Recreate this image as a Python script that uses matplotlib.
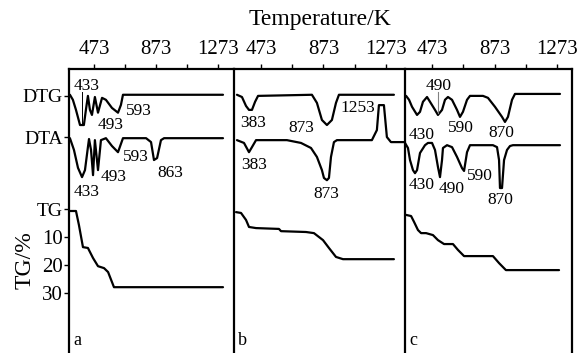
import matplotlib
matplotlib.use("Agg")
import matplotlib.pyplot as plt
from matplotlib.ticker import FixedLocator

plt.rcParams['font.family'] = ['Liberation Serif', 'DejaVu Serif']

# ---- data (temperature in K) ----
# panel a
a_dtg_T = [318, 337, 357, 383, 408, 421, 434, 447, 460, 479, 499, 525, 550, 589, 628, 647, 660, 1305]
a_dtg_s = [0.4, -1.4, -5, -10.4, -10.4, -5, 0, -5, -6.8, -0.4, -6, -0.7, -1.4, -4.3, -6, -3.2, 0.4, 0.4]
a_dta_T = [318, 344, 370, 396, 415, 434, 441, 454, 467, 479, 499, 518, 550, 589, 628, 660, 809, 841, 860, 880, 905, 925, 1305]
a_dta_s = [-0.4, -4.6, -11, -14.3, -11.8, -3.6, -0.7, -4.6, -13.6, -1.1, -11.8, -1.1, -0.4, -3.2, -5.4, -0.4, -0.4, -1.8, -8.2, -7.5, -1.1, -0.4, -0.4]
a_tg_T = [312, 357, 376, 402, 434, 467, 499, 538, 564, 602, 1305]
a_tg = [0.7, 0.7, 5.7, 13.6, 13.9, 17.5, 20.4, 21.1, 22.5, 27.9, 27.9]

# panel b
b_dtg_T = [319, 351, 377, 396, 415, 435, 454, 799, 831, 863, 895, 927, 953, 972, 1324]
b_dtg_s = [0.4, -0.4, -3.6, -5, -5, -2.1, 0, 0.4, -2.5, -8.6, -10.4, -8.6, -2.5, 0.4, 0.4]
b_dta_T = [319, 364, 396, 415, 441, 639, 729, 793, 831, 863, 876, 895, 908, 921, 940, 959, 1183, 1215, 1228, 1260, 1279, 1305, 1388]
b_dta_s = [-1.1, -2.1, -5.4, -3.6, -1.1, -1.1, -2.1, -3.9, -7.1, -11.8, -14.6, -15.4, -14.6, -7.1, -1.8, -1.1, -1.1, 2.5, 11.4, 11.4, 0, -1.8, -1.8]
b_tg_T = [313, 345, 377, 396, 441, 588, 601, 761, 812, 870, 908, 953, 998, 1324]
b_tg = [1.1, 1.4, 3.9, 6.4, 6.8, 7.1, 7.9, 8.2, 8.6, 11.1, 13.9, 17.1, 17.9, 17.9]

# panel c
c_dtg_T = [307, 326, 345, 377, 396, 415, 441, 460, 492, 511, 537, 556, 575, 601, 633, 652, 671, 697, 716,
           799, 831, 876, 921, 940, 959, 985, 1004, 1292]
c_dtg_s = [0, -1.4, -3.9, -6.8, -5.7, -2.1, -0.4, -2.1, -5, -6.8, -5, -1.4, -0.4, -1.4, -5, -7.5, -5.7, -1.4, 0,
           0, -0.7, -3.9, -7.5, -9.3, -7.5, -1.4, 0.7, 0.7]
c_dta_T = [300, 319, 332, 351, 364, 377, 396, 428, 447, 473, 492, 511, 524, 537, 543, 569, 601, 633, 665, 678,
           697, 716, 863, 889, 902, 908, 921, 934, 953, 972, 991, 1292]
c_dta_s = [-2.1, -3.9, -8.2, -11.8, -12.9, -11.8, -5.7, -2.9, -2.1, -2.1, -4.6, -10.7, -14.3, -8.2, -3.9, -2.9,
           -3.6, -7.1, -11.1, -12.1, -5.4, -2.9, -2.9, -3.6, -8.2, -18.2, -18.2, -8.2, -4.6, -3.2, -2.9, -2.9]
c_tg_T = [307, 339, 358, 383, 403, 435, 479, 511, 550, 607, 639, 678, 863, 902, 946, 1286]
c_tg = [2.1, 2.5, 4.6, 7.5, 8.6, 8.6, 9.3, 11.1, 12.5, 12.5, 14.6, 16.8, 16.8, 19.3, 21.8, 21.8]

# peak labels: (text, T, y)
a_labels = [("433", 428, 43.9), ("493", 583, 30.0), ("593", 763, 35.0), ("593", 744, 18.6),
            ("863", 963, 12.9), ("493", 602, 11.4), ("433", 428, 6.1)]
b_labels = [("383", 422, 30.7), ("873", 729, 28.9), ("1253", 1094, 36.1),
            ("383", 428, 15.7), ("873", 889, 5.4)]
c_labels = [("490", 518, 43.9), ("590", 659, 28.9), ("870", 915, 27.1), ("430", 409, 26.4),
            ("430", 409, 8.6), ("490", 601, 7.1), ("590", 780, 11.8), ("870", 908, 3.2)]

panel_names = ["a", "b", "c"]
top_ticks = [473, 873, 1273]
top_minor = [673, 1073]
left_tick_pos = [40.4, 25.7, 0, -10, -20, -30]
left_tick_lab = ["DTG", "DTA", "TG", "10", "20", "30"]

# ---- layout (pixel based) ----
W, H = 577, 353
dtg_base = 40.4
dta_base = 25.7
panel_px = [(69, 234), (234, 405), (405, 572)]
panel_xlim = [(312, 1376), (300, 1395), (300, 1369)]
top_px = 69

fig = plt.figure(figsize=(W / 100, H / 100), dpi=100)

panels = [
    (a_dtg_T, a_dtg_s, a_dta_T, a_dta_s, a_tg_T, a_tg, a_labels),
    (b_dtg_T, b_dtg_s, b_dta_T, b_dta_s, b_tg_T, b_tg, b_labels),
    (c_dtg_T, c_dtg_s, c_dta_T, c_dta_s, c_tg_T, c_tg, c_labels),
]

line_kw = dict(color="black", lw=1.6, solid_joinstyle="round", solid_capstyle="round")

for i, (dT, ds, aT, as_, tT, tg, labels) in enumerate(panels):
    x0, x1 = panel_px[i]
    ax = fig.add_axes([x0 / W, 0, (x1 - x0) / W, 1 - top_px / H])
    ax.set_xlim(*panel_xlim[i])
    ax.set_ylim(-51.4, 50)

    ax.plot(dT, [dtg_base + v for v in ds], **line_kw)
    ax.plot(aT, [dta_base + v for v in as_], **line_kw)
    ax.plot(tT, [-v for v in tg], **line_kw)

    for txt, T, y in labels:
        ax.text(T, y, txt, ha="center", va="center", fontsize=12.5)

    ax.text(0.025, 0.015, panel_names[i], transform=ax.transAxes,
            ha="left", va="bottom", fontsize=13)

    for s in ["top", "left", "right"]:
        ax.spines[s].set_linewidth(1.6)
    ax.spines["bottom"].set_visible(False)
    if i < 2:
        ax.spines["right"].set_visible(False)

    ax.xaxis.tick_top()
    ax.xaxis.set_major_locator(FixedLocator(top_ticks))
    ax.xaxis.set_minor_locator(FixedLocator(top_minor))
    ax.tick_params(axis="x", which="both", direction="out", length=3.5, width=1,
                   labelsize=15, pad=4)

    if i == 0:
        ax.yaxis.set_major_locator(FixedLocator(left_tick_pos))
        ax.set_yticklabels(left_tick_lab)
        ax.tick_params(axis="y", direction="out", length=3.5, width=1, labelsize=14, pad=1)
        for lab in ax.get_yticklabels()[3:]:
            lab.set_fontsize(15)
    else:
        ax.set_yticks([])

# pointer lines from labels to peaks
fig.axes[0].plot([396, 396], [41.8, 30.0], color="black", lw=0.7)
fig.axes[2].plot([511, 511], [41.8, 34.3], color="gray", lw=0.8)

fig.text(320 / W, 1 - 19 / H, "Temperature/K", ha="center", va="center", fontsize=17)
fig.text(25 / W, 1 - 260 / H, "TG/%", ha="center", va="center", rotation=90, fontsize=17)

fig.savefig("out.png", dpi=100)
